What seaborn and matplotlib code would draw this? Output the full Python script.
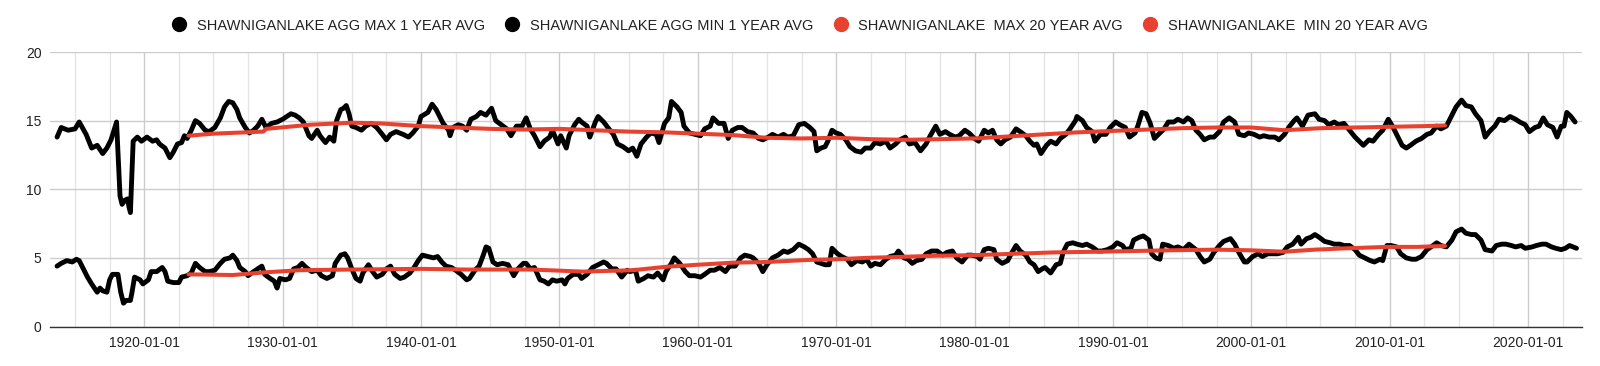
import numpy as np
import pandas as pd
import matplotlib
matplotlib.use("Agg")
import matplotlib.pyplot as plt
from matplotlib.lines import Line2D
import seaborn as sns

# ---------------- data (decimal years) ----------------
max1_years = [1913.7, 1914.0, 1914.5, 1915.0, 1915.3, 1915.8, 1916.2, 1916.6, 1917.0, 1917.3, 1917.6, 1918.0,
              1918.25, 1918.4, 1918.6, 1918.8, 1918.9, 1919.0, 1919.2, 1919.5, 1919.8, 1920.2, 1920.6, 1920.9,
              1921.1, 1921.5, 1921.85, 1922.1, 1922.4, 1922.7, 1922.9, 1923.1, 1923.4, 1923.7, 1924.0, 1924.4,
              1924.7, 1925.1, 1925.5, 1925.8, 1926.1, 1926.4, 1926.7, 1926.9, 1927.3, 1927.6, 1927.9, 1928.2,
              1928.5, 1928.8, 1929.2, 1929.6, 1930.0, 1930.3, 1930.6, 1930.9, 1931.2, 1931.5, 1931.9, 1932.1,
              1932.5, 1932.7, 1933.1, 1933.4, 1933.7, 1933.9, 1934.2, 1934.4, 1934.6, 1934.8, 1935.0, 1935.3,
              1935.7, 1936.0, 1936.4, 1936.8, 1937.2, 1937.5, 1937.8, 1938.2, 1938.7, 1939.1, 1939.4, 1939.8,
              1940.0, 1940.5, 1940.8, 1941.1, 1941.5, 1941.6, 1942.0, 1942.1, 1942.3, 1942.7, 1943.0, 1943.3,
              1943.6, 1944.0, 1944.3, 1944.7, 1945.1, 1945.4, 1945.8, 1946.2, 1946.5, 1946.9, 1947.3, 1947.6,
              1947.9, 1948.2, 1948.6, 1948.9, 1949.3, 1949.5, 1949.9, 1950.1, 1950.5, 1950.7, 1951.1, 1951.4,
              1951.6, 1952.0, 1952.2, 1952.6, 1952.8, 1953.2, 1953.5, 1953.9, 1954.2, 1954.6, 1955.0, 1955.3,
              1955.6, 1955.9, 1956.3, 1956.6, 1957.0, 1957.2, 1957.6, 1957.9, 1958.1, 1958.5, 1958.8, 1959.0,
              1959.4, 1959.8, 1960.2, 1960.5, 1960.9, 1961.1, 1961.5, 1961.9, 1962.2, 1962.5, 1962.9, 1963.2,
              1963.6, 1964.0, 1964.4, 1964.7, 1965.1, 1965.4, 1965.8, 1966.2, 1966.5, 1966.9, 1967.3, 1967.7,
              1968.1, 1968.4, 1968.6, 1968.9, 1969.2, 1969.4, 1969.7, 1970.0, 1970.3, 1970.7, 1971.0, 1971.4,
              1971.8, 1972.1, 1972.5, 1972.8, 1973.2, 1973.6, 1973.9, 1974.3, 1974.6, 1975.0, 1975.3, 1975.7,
              1976.1, 1976.5, 1976.8, 1977.2, 1977.5, 1977.9, 1978.2, 1978.6, 1978.9, 1979.3, 1979.6, 1980.0,
              1980.3, 1980.7, 1981.0, 1981.3, 1981.6, 1981.9, 1982.2, 1982.6, 1983.0, 1983.3, 1983.7, 1984.0,
              1984.3, 1984.5, 1984.8, 1985.2, 1985.5, 1985.9, 1986.2, 1986.6, 1986.9, 1987.3, 1987.4, 1987.8,
              1988.1, 1988.5, 1988.7, 1989.1, 1989.5, 1989.8, 1990.2, 1990.5, 1990.9, 1991.2, 1991.6, 1991.8,
              1992.1, 1992.4, 1992.7, 1993.0, 1993.3, 1993.7, 1994.0, 1994.4, 1994.7, 1995.1, 1995.4, 1995.7,
              1996.0, 1996.3, 1996.6, 1997.0, 1997.3, 1997.7, 1998.0, 1998.4, 1998.8, 1999.1, 1999.5, 1999.8,
              2000.2, 2000.6, 2000.9, 2001.3, 2001.7, 2002.0, 2002.4, 2002.7, 2003.1, 2003.3, 2003.7, 2004.1,
              2004.6, 2004.9, 2005.3, 2005.6, 2006.0, 2006.3, 2006.7, 2007.1, 2007.5, 2007.8, 2008.1, 2008.5,
              2008.8, 2009.2, 2009.5, 2009.9, 2010.2, 2010.6, 2010.9, 2011.2, 2011.5, 2011.9, 2012.3, 2012.7,
              2013.0, 2013.4, 2013.7, 2014.1, 2014.5, 2014.8, 2015.2, 2015.5, 2015.9, 2016.2, 2016.6, 2016.9,
              2017.2, 2017.6, 2017.9, 2018.3, 2018.7, 2019.1, 2019.4, 2019.8, 2020.1, 2020.5, 2020.8, 2021.1,
              2021.4, 2021.8, 2022.1, 2022.4, 2022.6, 2022.8, 2023.1, 2023.4]
max1_values = [13.8, 14.5, 14.3, 14.4, 14.9, 14.0, 13.0, 13.2, 12.6, 13.0, 13.6, 14.9,
               9.5, 8.9, 9.2, 9.3, 8.7, 8.3, 13.5, 13.8, 13.5, 13.8, 13.5, 13.6,
               13.3, 13.0, 12.3, 12.7, 13.3, 13.4, 13.9, 13.7, 14.3, 15.0, 14.8, 14.3,
               14.2, 14.5, 15.2, 16.0, 16.4, 16.3, 15.8, 15.2, 14.5, 14.1, 14.3, 14.6,
               15.1, 14.5, 14.8, 14.9, 15.1, 15.3, 15.5, 15.4, 15.2, 14.9, 13.9, 13.7,
               14.3, 13.9, 13.4, 13.8, 13.5, 15.0, 15.8, 15.9, 16.1, 15.5, 14.6, 14.5,
               14.3, 14.6, 14.8, 14.5, 14.0, 13.6, 14.0, 14.2, 14.0, 13.8, 14.1, 14.6,
               15.3, 15.6, 16.2, 15.8, 15.0, 14.8, 14.3, 13.9, 14.5, 14.7, 14.6, 14.3,
               15.1, 15.3, 15.6, 15.4, 15.9, 15.0, 14.7, 14.4, 13.9, 14.6, 14.6, 15.2,
               14.4, 13.9, 13.1, 13.5, 13.8, 14.3, 13.3, 13.9, 13.0, 13.9, 14.7, 15.1,
               14.9, 14.6, 13.8, 14.9, 15.3, 14.9, 14.5, 14.0, 13.3, 13.1, 12.8, 13.0,
               12.4, 13.3, 13.8, 14.1, 14.0, 13.4, 14.8, 15.2, 16.4, 16.0, 15.6, 14.6,
               14.1, 14.0, 13.9, 14.4, 14.6, 15.2, 14.8, 14.8, 13.7, 14.3, 14.5, 14.5,
               14.2, 14.1, 13.7, 13.6, 13.8, 14.0, 13.8, 14.0, 13.8, 13.9, 14.7, 14.8,
               14.5, 14.2, 12.8, 13.0, 13.1, 13.5, 14.3, 14.1, 14.0, 13.6, 13.1, 12.8,
               12.7, 13.0, 13.0, 13.4, 13.3, 13.5, 13.0, 13.3, 13.6, 13.8, 13.3, 13.4,
               12.8, 13.3, 13.9, 14.6, 14.0, 14.2, 14.0, 13.8, 13.9, 14.3, 14.1, 13.7,
               13.5, 14.3, 14.1, 14.3, 13.6, 13.3, 13.6, 13.8, 14.4, 14.2, 13.9, 13.5,
               13.2, 13.3, 12.6, 13.2, 13.5, 13.3, 13.7, 14.0, 14.4, 15.0, 15.3, 15.0,
               14.5, 14.2, 13.5, 14.0, 14.0, 14.5, 14.9, 14.7, 14.5, 13.8, 14.1, 14.6,
               15.6, 15.5, 14.8, 13.7, 14.0, 14.4, 14.9, 14.9, 15.1, 14.9, 15.2, 15.0,
               14.3, 14.0, 13.6, 13.8, 13.8, 14.2, 14.9, 15.2, 14.9, 14.0, 13.9, 14.1,
               14.0, 13.8, 13.9, 13.8, 13.8, 13.6, 14.0, 14.5, 15.0, 15.2, 14.6, 15.4,
               15.5, 15.1, 15.0, 14.7, 14.9, 14.7, 14.8, 14.3, 13.8, 13.5, 13.2, 13.6,
               13.5, 14.0, 14.3, 15.1, 14.6, 13.8, 13.2, 13.0, 13.2, 13.5, 13.7, 14.0,
               14.1, 14.6, 14.4, 14.6, 15.4, 16.0, 16.5, 16.1, 16.0, 15.5, 15.0, 13.8,
               14.2, 14.6, 15.1, 15.0, 15.3, 15.1, 14.9, 14.7, 14.2, 14.5, 14.6, 15.2,
               14.7, 14.5, 13.8, 14.6, 14.6, 15.6, 15.3, 14.9]

min1_years = [1913.7, 1914.0, 1914.4, 1914.8, 1915.1, 1915.3, 1915.6, 1915.9, 1916.2, 1916.6, 1916.8, 1917.0,
              1917.3, 1917.5, 1917.7, 1918.1, 1918.3, 1918.5, 1918.7, 1919.0, 1919.1, 1919.3, 1919.7, 1919.9,
              1920.3, 1920.5, 1920.9, 1921.3, 1921.5, 1921.7, 1922.1, 1922.5, 1922.7, 1923.1, 1923.4, 1923.7,
              1924.0, 1924.4, 1924.7, 1925.1, 1925.5, 1925.8, 1926.2, 1926.4, 1926.7, 1926.9, 1927.3, 1927.5,
              1927.9, 1928.2, 1928.5, 1928.7, 1929.1, 1929.4, 1929.6, 1929.8, 1930.2, 1930.5, 1930.8, 1931.1,
              1931.4, 1931.7, 1932.1, 1932.5, 1932.8, 1933.2, 1933.6, 1933.8, 1934.2, 1934.5, 1934.7, 1935.0,
              1935.3, 1935.6, 1935.8, 1936.2, 1936.5, 1936.8, 1937.2, 1937.5, 1937.8, 1938.1, 1938.5, 1938.8,
              1939.2, 1939.5, 1939.8, 1940.1, 1940.5, 1940.9, 1941.2, 1941.5, 1941.8, 1942.2, 1942.5, 1942.9,
              1943.3, 1943.5, 1943.9, 1944.2, 1944.5, 1944.7, 1944.9, 1945.2, 1945.5, 1945.9, 1946.3, 1946.7,
              1947.0, 1947.4, 1947.6, 1947.9, 1948.2, 1948.6, 1948.9, 1949.2, 1949.5, 1949.8, 1950.2, 1950.4,
              1950.6, 1951.0, 1951.4, 1951.6, 1952.0, 1952.4, 1952.8, 1953.2, 1953.4, 1953.8, 1954.1, 1954.5,
              1954.9, 1955.1, 1955.5, 1955.7, 1956.1, 1956.4, 1956.8, 1957.1, 1957.5, 1957.7, 1958.1, 1958.3,
              1958.7, 1959.1, 1959.4, 1959.8, 1960.2, 1960.5, 1960.9, 1961.2, 1961.6, 1962.0, 1962.3, 1962.7,
              1963.1, 1963.4, 1963.8, 1964.0, 1964.4, 1964.7, 1965.0, 1965.4, 1965.8, 1966.2, 1966.5, 1966.9,
              1967.3, 1967.7, 1968.0, 1968.3, 1968.6, 1968.9, 1969.2, 1969.5, 1969.7, 1970.1, 1970.4, 1970.8,
              1971.1, 1971.5, 1971.9, 1972.2, 1972.5, 1972.8, 1973.2, 1973.6, 1973.9, 1974.3, 1974.5, 1974.9,
              1975.2, 1975.5, 1975.8, 1976.2, 1976.5, 1976.9, 1977.3, 1977.7, 1978.0, 1978.4, 1978.7, 1979.1,
              1979.5, 1979.8, 1980.2, 1980.4, 1980.7, 1981.0, 1981.4, 1981.6, 1982.0, 1982.4, 1982.6, 1983.0,
              1983.3, 1983.7, 1984.0, 1984.3, 1984.6, 1984.9, 1985.1, 1985.5, 1985.9, 1986.2, 1986.4, 1986.7,
              1987.1, 1987.4, 1987.8, 1988.1, 1988.5, 1988.9, 1989.2, 1989.6, 1990.0, 1990.3, 1990.7, 1990.9,
              1991.3, 1991.5, 1991.9, 1992.2, 1992.6, 1992.8, 1993.1, 1993.4, 1993.6, 1994.0, 1994.4, 1994.7,
              1995.1, 1995.5, 1996.0, 1996.3, 1996.6, 1997.0, 1997.3, 1997.7, 1998.0, 1998.5, 1998.8, 1999.1,
              1999.5, 1999.7, 2000.1, 2000.5, 2000.8, 2001.2, 2001.5, 2001.9, 2002.3, 2002.6, 2003.0, 2003.4,
              2003.6, 2004.0, 2004.3, 2004.6, 2004.9, 2005.3, 2005.7, 2006.0, 2006.4, 2006.7, 2007.1, 2007.5,
              2007.8, 2008.2, 2008.6, 2008.9, 2009.3, 2009.5, 2009.8, 2010.1, 2010.5, 2010.8, 2011.2, 2011.6,
              2011.9, 2012.3, 2012.7, 2013.0, 2013.4, 2013.7, 2014.1, 2014.5, 2014.8, 2015.2, 2015.5, 2015.9,
              2016.2, 2016.6, 2016.9, 2017.4, 2017.7, 2018.1, 2018.4, 2018.8, 2019.1, 2019.5, 2019.8, 2020.3,
              2020.6, 2021.0, 2021.3, 2021.7, 2022.0, 2022.4, 2022.7, 2023.0, 2023.5]
min1_values = [4.4, 4.6, 4.8, 4.7, 4.9, 4.8, 4.2, 3.6, 3.1, 2.5, 2.8, 2.6,
               2.5, 3.4, 3.8, 3.8, 2.5, 1.7, 1.9, 1.9, 2.4, 3.6, 3.4, 3.1,
               3.4, 4.0, 4.0, 4.3, 4.0, 3.3, 3.2, 3.2, 3.6, 3.7, 3.9, 4.6,
               4.3, 4.0, 4.0, 4.1, 4.6, 4.9, 5.0, 5.2, 4.8, 4.3, 4.0, 3.7,
               4.0, 4.2, 4.4, 3.8, 3.5, 3.3, 2.8, 3.5, 3.4, 3.5, 4.2, 4.3,
               4.6, 4.3, 4.0, 4.1, 3.7, 3.5, 3.7, 4.6, 5.2, 5.3, 5.0, 4.2,
               3.5, 3.3, 3.9, 4.5, 4.0, 3.6, 3.8, 4.2, 4.4, 3.8, 3.5, 3.6,
               3.9, 4.3, 4.8, 5.2, 5.1, 5.0, 5.1, 4.7, 4.4, 4.3, 4.1, 3.8,
               3.4, 3.5, 4.1, 4.4, 5.2, 5.8, 5.7, 4.7, 4.5, 4.6, 4.5, 3.7,
               4.2, 4.6, 4.6, 4.2, 4.3, 3.4, 3.3, 3.1, 3.4, 3.3, 3.4, 3.1,
               3.5, 3.8, 3.8, 3.5, 3.8, 4.3, 4.5, 4.7, 4.6, 4.2, 4.2, 3.6,
               4.1, 4.0, 4.1, 3.3, 3.5, 3.7, 3.6, 3.9, 3.4, 4.0, 4.6, 5.0,
               4.6, 4.0, 3.7, 3.7, 3.6, 3.8, 4.1, 4.1, 4.3, 4.0, 4.4, 4.4,
               5.0, 5.2, 5.1, 5.0, 4.6, 4.0, 4.5, 5.0, 5.2, 5.5, 5.4, 5.6,
               6.0, 5.8, 5.6, 5.3, 4.7, 4.6, 4.5, 4.5, 5.7, 5.3, 5.1, 4.9,
               4.5, 4.8, 4.7, 4.9, 4.4, 4.6, 4.5, 4.9, 5.1, 5.2, 5.5, 5.0,
               4.9, 4.6, 4.8, 4.9, 5.3, 5.5, 5.5, 5.2, 5.4, 5.5, 5.0, 4.7,
               5.2, 5.2, 5.1, 4.9, 5.6, 5.7, 5.6, 4.9, 4.6, 4.8, 5.2, 5.9,
               5.5, 5.2, 4.7, 4.5, 4.0, 4.2, 4.3, 3.9, 4.5, 4.6, 5.4, 6.0,
               6.1, 6.0, 5.9, 6.0, 5.8, 5.5, 5.5, 5.6, 5.8, 6.1, 5.9, 5.6,
               5.7, 6.3, 6.5, 6.6, 6.3, 5.3, 5.0, 4.9, 6.0, 5.9, 5.7, 5.8,
               5.6, 6.0, 5.6, 5.1, 4.7, 4.9, 5.4, 5.9, 6.2, 6.4, 6.0, 5.4,
               4.7, 4.7, 5.1, 5.3, 5.1, 5.3, 5.3, 5.3, 5.4, 5.8, 6.0, 6.5,
               6.0, 6.4, 6.5, 6.7, 6.5, 6.2, 6.1, 6.0, 6.0, 5.9, 5.9, 5.6,
               5.2, 5.0, 4.8, 4.7, 4.9, 4.8, 5.9, 5.9, 5.8, 5.3, 5.0, 4.9,
               4.9, 5.1, 5.6, 5.8, 6.1, 5.9, 5.8, 6.3, 6.9, 7.1, 6.8, 6.7,
               6.7, 6.3, 5.6, 5.5, 5.9, 6.0, 6.0, 5.9, 5.8, 5.9, 5.7, 5.8,
               5.9, 6.0, 6.0, 5.8, 5.7, 5.6, 5.7, 5.9, 5.7]

max20_years = [1923.2, 1925.0, 1928.6, 1928.8, 1932.0, 1935.0, 1937.0, 1940.0, 1942.5, 1945.0, 1947.5,
               1950.0, 1952.5, 1955.0, 1957.5, 1960.0, 1962.5, 1965.0, 1967.5, 1970.0, 1972.5, 1975.0,
               1977.5, 1980.0, 1982.5, 1985.0, 1987.5, 1990.0, 1992.5, 1995.0, 1997.5, 2000.0, 2002.4,
               2005.0, 2007.5, 2010.0, 2012.5, 2014.0]
max20_values = [13.9, 14.05, 14.2, 14.4, 14.7, 14.85, 14.8, 14.6, 14.5, 14.4, 14.35,
                14.4, 14.3, 14.2, 14.15, 14.05, 13.95, 13.75, 13.7, 13.75, 13.65, 13.6,
                13.65, 13.7, 13.85, 14.0, 14.15, 14.25, 14.35, 14.45, 14.5, 14.5, 14.3,
                14.45, 14.5, 14.55, 14.6, 14.65]

min20_years = [1923.2, 1926.4, 1928.8, 1931.2, 1935.0, 1940.0, 1943.3, 1948.0, 1951.7, 1955.3, 1957.7,
               1960.0, 1962.5, 1965.0, 1968.0, 1970.0, 1972.2, 1974.6, 1977.0, 1980.0, 1982.9, 1985.8,
               1989.0, 1991.5, 1994.0, 1997.5, 2000.0, 2002.4, 2004.6, 2007.0, 2009.8, 2012.0, 2014.0]
min20_values = [3.8, 3.75, 3.95, 4.1, 4.15, 4.2, 4.15, 4.15, 4.0, 4.1, 4.35,
                4.5, 4.65, 4.7, 4.85, 4.9, 5.0, 5.07, 5.15, 5.2, 5.3, 5.4,
                5.45, 5.5, 5.55, 5.6, 5.55, 5.45, 5.6, 5.7, 5.8, 5.8, 5.87]

series_names = ["SHAWNIGANLAKE AGG MAX 1 YEAR AVG", "SHAWNIGANLAKE AGG MIN 1 YEAR AVG",
                "SHAWNIGANLAKE  MAX 20 YEAR AVG", "SHAWNIGANLAKE  MIN 20 YEAR AVG"]
x_tick_years = [1920, 1930, 1940, 1950, 1960, 1970, 1980, 1990, 2000, 2010, 2020]
x_tick_labels = [f"{y}-01-01" for y in x_tick_years]
y_ticks = [0, 5, 10, 15, 20]

# ---------------- style ----------------
sns.set_theme(style="white")
plt.rcParams["font.family"] = ["Liberation Sans", "DejaVu Sans"]

BLACK = "#000000"
RED = "#e8412f"
colors = [BLACK, BLACK, RED, RED]

fig = plt.figure(figsize=(16, 3.66), dpi=100)
ax = fig.add_axes([50 / 1600, 1 - 326.5 / 366, (1582 - 50) / 1600, (326.5 - 52) / 366])

frames = [
    pd.DataFrame({"year": max1_years, "value": max1_values}),
    pd.DataFrame({"year": min1_years, "value": min1_values}),
    pd.DataFrame({"year": max20_years, "value": max20_values}),
    pd.DataFrame({"year": min20_years, "value": min20_values}),
]
widths = [3.5, 3.5, 2.9, 2.9]
for df, c, w in zip(frames, colors, widths):
    sns.lineplot(data=df, x="year", y="value", ax=ax, color=c, linewidth=w,
                 legend=False, estimator=None, sort=False, solid_joinstyle="round",
                 solid_capstyle="round", zorder=3)

ax.set_xlim(1913.19, 2023.9)
ax.set_ylim(0, 20)
ax.set_xticks(x_tick_years)
ax.set_xticklabels(x_tick_labels)
ax.set_xticks(np.arange(1915, 2023.9, 2.5), minor=True)
ax.set_yticks(y_ticks)
ax.set_yticklabels([str(v) for v in y_ticks])
ax.set_xlabel("")
ax.set_ylabel("")

ax.grid(True, which="major", axis="both", color="#cccccc", linewidth=1.0, zorder=0)
ax.grid(True, which="minor", axis="x", color="#e6e6e6", linewidth=1.0, zorder=0)
ax.set_axisbelow(True)
for side in ["top", "right", "left"]:
    ax.spines[side].set_visible(False)
ax.spines["bottom"].set_color("#333333")
ax.spines["bottom"].set_linewidth(1.0)
ax.spines["bottom"].set_zorder(2)

ax.tick_params(axis="both", which="both", length=0, labelsize=10, colors="#222222")
ax.tick_params(axis="x", pad=7)
ax.tick_params(axis="y", pad=6)

handles = [Line2D([0], [0], marker="o", linestyle="none", markersize=10,
                  markerfacecolor=c, markeredgecolor=c) for c in colors]
fig.legend(handles, series_names, loc="center", bbox_to_anchor=(0.5, 1 - 25.5 / 366),
           ncol=4, frameon=False, fontsize=10.5, handlelength=1.0, handletextpad=0.71,
           columnspacing=1.37, borderaxespad=0, labelcolor="#222222")

fig.savefig("out.png", dpi=100)
